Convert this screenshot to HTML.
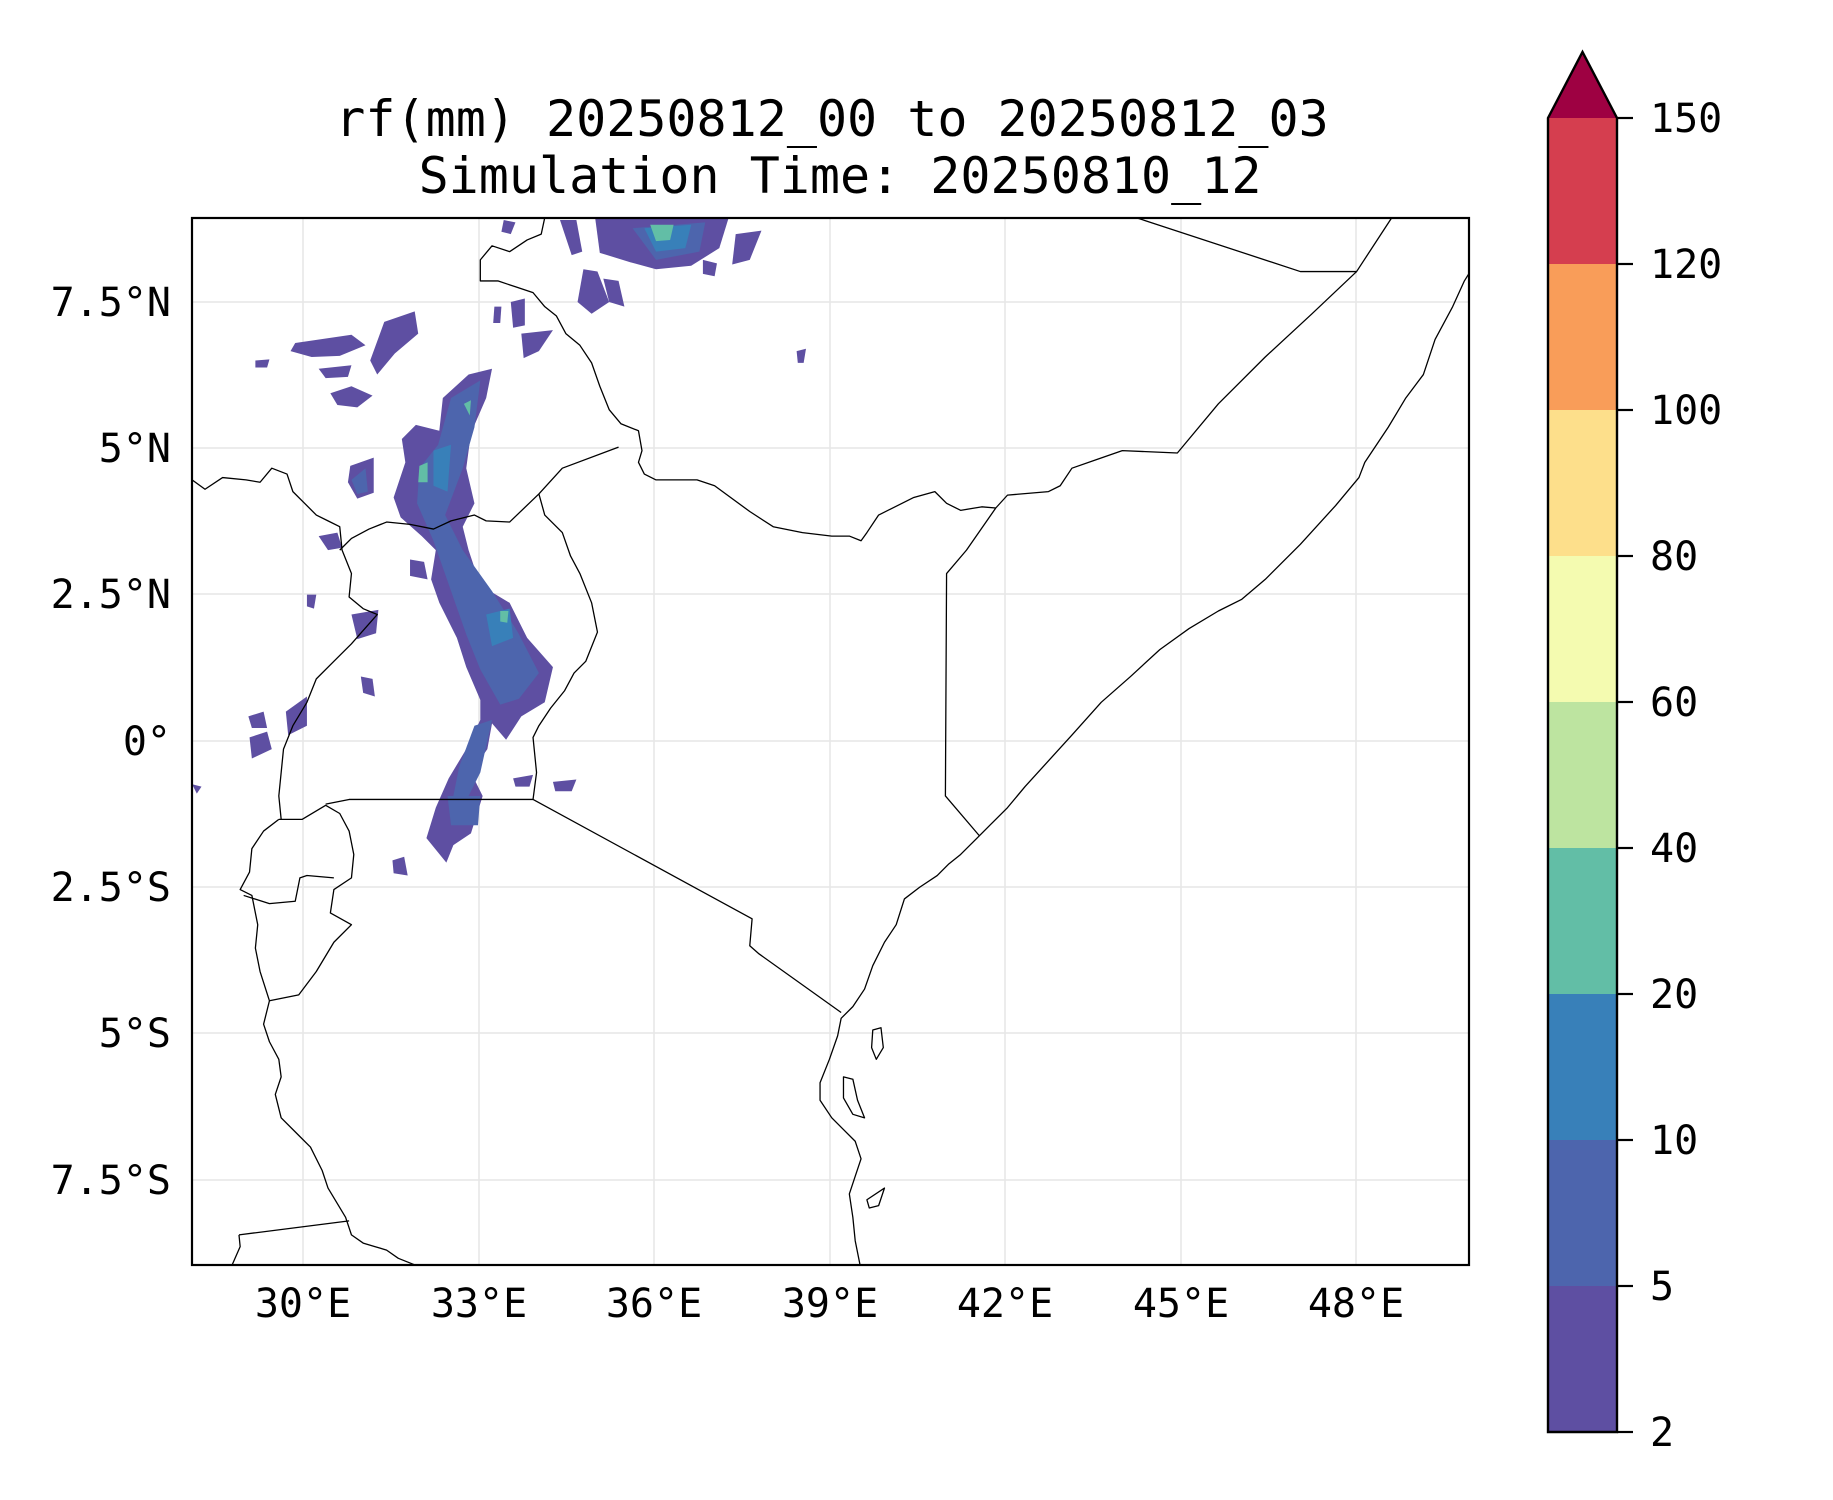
<!DOCTYPE html>
<html><head><meta charset="utf-8"><style>
html,body{margin:0;padding:0;background:#fff;}
svg{display:block;}
text{font-family:"DejaVu Sans Mono","Liberation Mono",monospace;fill:#000;}
</style></head><body>
<svg width="1833" height="1500" viewBox="0 0 1833 1500" xmlns="http://www.w3.org/2000/svg">
<defs><clipPath id="ax"><rect x="192" y="218" width="1277" height="1047"/></clipPath></defs>
<g stroke="#e6e6e6" stroke-width="1.5">
<line x1="303" y1="218" x2="303" y2="1265"/><line x1="479" y1="218" x2="479" y2="1265"/>
<line x1="654" y1="218" x2="654" y2="1265"/><line x1="830" y1="218" x2="830" y2="1265"/>
<line x1="1005" y1="218" x2="1005" y2="1265"/><line x1="1181" y1="218" x2="1181" y2="1265"/>
<line x1="1356" y1="218" x2="1356" y2="1265"/>
<line x1="192" y1="302" x2="1469" y2="302"/><line x1="192" y1="448" x2="1469" y2="448"/>
<line x1="192" y1="594" x2="1469" y2="594"/><line x1="192" y1="741" x2="1469" y2="741"/>
<line x1="192" y1="887" x2="1469" y2="887"/><line x1="192" y1="1033" x2="1469" y2="1033"/>
<line x1="192" y1="1180" x2="1469" y2="1180"/>
</g>
<g clip-path="url(#ax)">
<g transform="scale(1.1715,1.1705)">
<g fill="#5e4fa2">
<path d="M400,320 L420,315 L415,340 L402,370 L398,400 L405,430 L395,450 L400,470 L410,500 L435,515 L450,545 L472,570 L465,600 L445,612 L432,632 L420,618 L416,640 L402,660 L412,680 L402,712 L387,722 L381,737 L364,716 L372,690 L383,665 L398,640 L410,615 L410,598 L398,570 L390,545 L375,515 L368,495 L372,470 L360,458 L342,442 L336,425 L346,395 L343,375 L355,363 L375,368 L378,340 Z"/>
<path d="M508,186 L622,186 L614,212 L590,227 L560,230 L538,224 L512,216 Z"/>
<path d="M478,188 L492,188 L497,215 L488,218 Z"/>
<path d="M498,230 L510,232 L520,258 L505,268 L493,258 Z"/>
<path d="M515,238 L528,240 L533,262 L520,258 Z"/>
<path d="M628,200 L650,197 L640,222 L625,226 Z"/>
<path d="M600,222 L612,225 L610,236 L600,234 Z"/>
<path d="M430,188 L440,190 L436,200 L428,198 Z"/>
<path d="M445,285 L472,282 L460,300 L447,306 Z"/>
<path d="M436,258 L448,255 L448,278 L438,280 Z"/>
<path d="M422,262 L428,262 L427,276 L421,276 Z"/>
<path d="M252,293 L300,286 L312,295 L290,304 L266,305 L248,300 Z"/>
<path d="M328,275 L354,266 L357,285 L337,302 L322,320 L316,308 Z"/>
<path d="M272,315 L300,312 L297,322 L278,323 Z"/>
<path d="M282,336 L300,330 L318,338 L305,348 L288,346 Z"/>
<path d="M218,308 L230,307 L228,314 L218,314 Z"/>
<path d="M299,398 L319,391 L319,421 L305,426 L297,412 Z"/>
<path d="M272,458 L288,455 L292,468 L280,470 Z"/>
<path d="M300,525 L323,521 L321,541 L305,546 Z"/>
<path d="M350,478 L362,480 L365,495 L350,492 Z"/>
<path d="M212,612 L225,608 L228,622 L215,622 Z"/>
<path d="M213,630 L228,625 L232,640 L215,648 Z"/>
<path d="M244,608 L262,595 L262,620 L246,628 Z"/>
<path d="M308,578 L318,580 L320,595 L310,592 Z"/>
<path d="M438,665 L455,662 L452,672 L440,672 Z"/>
<path d="M472,668 L492,666 L488,676 L474,676 Z"/>
<path d="M335,735 L345,732 L348,748 L336,746 Z"/>
<path d="M262,508 L270,508 L268,520 L262,518 Z"/>
<path d="M680,300 L688,298 L686,310 L681,310 Z"/>
<path d="M164,670 L172,672 L168,678 Z"/>
</g>
<g fill="#4d65ad">
<path d="M385,340 L410,325 L405,365 L395,400 L380,440 L395,470 L420,505 L442,540 L460,575 L443,597 L427,602 L410,572 L398,542 L384,502 L370,462 L356,430 L358,400 L374,380 Z"/>
<path d="M540,195 L602,190 L597,215 L560,222 Z"/>
<path d="M405,620 L420,615 L410,660 L395,690 L385,690 L392,655 Z"/>
<path d="M382,680 L410,680 L408,705 L385,705 Z"/>
<path d="M300,410 L312,400 L314,420 L305,422 Z"/>
</g>
<g fill="#3880b9">
<path d="M550,195 L590,192 L585,212 L560,215 Z"/>
<path d="M370,385 L385,380 L382,420 L370,415 Z"/>
<path d="M415,525 L435,520 L438,545 L420,552 Z"/>
</g>
<g fill="#62bea6">
<path d="M555,192 L575,192 L572,205 L560,206 Z"/>
<path d="M358,398 L365,395 L365,412 L357,412 Z"/>
<path d="M427,522 L434,522 L433,532 L427,531 Z"/>
<path d="M396,345 L402,342 L401,355 Z"/>
</g>
<g fill="none" stroke="#000" stroke-width="1.1" stroke-linejoin="round">
<polyline points="1255,232 1250,240 1240,262 1225,290 1215,320 1200,340 1185,365 1165,395 1160,408 1140,432 1110,465 1080,495 1060,512 1040,522 1015,537 990,555 965,578 940,600 915,628 895,650 875,672 860,690 845,705 835,715 820,730 810,738 800,748 785,758 772,768 765,790 755,805 745,825 738,845 728,860 718,870 715,885 708,905 700,925 700,940 710,955 720,965 730,975 735,990 730,1005 725,1020 728,1040 730,1060 735,1085"/>
<polyline points="970,186 1110,232 1158,232 1188,186"/>
<polyline points="1158,232 1120,268 1080,305 1040,345 1005,387 958,385 935,393 915,400 905,415 895,420 860,423 850,434 825,470 808,490 807,680 836,714"/>
<polyline points="850,434 838,433 820,436 808,430 798,420 780,425 760,435 750,440 740,455 735,462 725,458 710,458 685,455 660,450 640,437 610,415 595,410 560,410 550,405 545,395 548,385 545,368 530,362 520,350 512,330 505,310 495,295 483,285 475,270 465,262 455,250 440,245 425,240 410,240 410,222 420,210 435,215 450,205 462,200 465,186"/>
<polyline points="528,382 480,400 460,422 435,446 415,445 405,440 385,445 370,452 350,448 330,446 315,452 300,460 290,470"/>
<polyline points="460,422 465,440 480,455 487,475 495,490 505,515 510,540 500,565 490,575 482,590 470,605 460,620 455,630 458,660 455,683 642,785 640,808 648,815 718,865"/>
<polyline points="455,683 298,683 278,687"/>
<polyline points="164,410 175,418 190,408 210,410 222,412 232,400 245,405 250,420 260,430 270,440 280,445 290,450 292,470 300,490 298,510 310,520 322,525 300,550 285,565 270,580 262,600 250,620 242,640 240,660 238,680 240,700"/>
<polyline points="238,700 258,700 278,688 290,695 298,710 302,730 300,750 285,760 282,780 300,790 285,805 270,830 255,850 230,855"/>
<polyline points="238,700 225,710 215,725 213,745 205,760 215,765 220,790 218,810 222,830 230,855 225,875 230,890 238,905 240,920 235,935 240,955 255,970 265,980 275,1000 280,1015 295,1040 300,1055 310,1062 320,1065 330,1068 340,1075 355,1081"/>
<polyline points="204,1055 298,1043"/>
<polyline points="204,1055 205,1065 198,1081"/>
<polyline points="208,765 230,772 252,770 256,750 262,748 285,750"/>
<path d="M745,880 L752,878 L754,895 L748,905 L744,895 Z"/>
<path d="M720,920 L728,922 L732,940 L738,955 L728,952 L720,938 Z"/>
<path d="M740,1025 L755,1015 L750,1030 L742,1032 Z"/>
</g>
</g>
</g>
<rect x="192" y="218" width="1277" height="1047" fill="none" stroke="#000" stroke-width="2.2"/>
<g font-size="40" text-anchor="end">
<text x="171" y="316">7.5°N</text><text x="171" y="462">5°N</text>
<text x="171" y="608">2.5°N</text><text x="171" y="755">0°</text>
<text x="171" y="901">2.5°S</text><text x="171" y="1047">5°S</text>
<text x="171" y="1194">7.5°S</text>
</g>
<g font-size="40" text-anchor="middle">
<text x="303" y="1317">30°E</text><text x="479" y="1317">33°E</text>
<text x="654" y="1317">36°E</text><text x="830" y="1317">39°E</text>
<text x="1005" y="1317">42°E</text><text x="1181" y="1317">45°E</text>
<text x="1356" y="1317">48°E</text>
</g>
<g font-size="50" text-anchor="middle">
<text x="832" y="136">rf(mm) 20250812_00 to 20250812_03</text>
<text x="840" y="193">Simulation Time: 20250810_12</text>
</g>
<g>
<rect x="1548" y="1286" width="69" height="146" fill="#5e4fa2"/>
<rect x="1548" y="1140" width="69" height="146" fill="#4d65ad"/>
<rect x="1548" y="994" width="69" height="146" fill="#3880b9"/>
<rect x="1548" y="848" width="69" height="146" fill="#62bea6"/>
<rect x="1548" y="702" width="69" height="146" fill="#bde4a0"/>
<rect x="1548" y="556" width="69" height="146" fill="#f4fbb0"/>
<rect x="1548" y="410" width="69" height="146" fill="#fddf8b"/>
<rect x="1548" y="264" width="69" height="146" fill="#f99d59"/>
<rect x="1548" y="118" width="69" height="146" fill="#d53e4f"/>
<path d="M1548,118 L1582.5,52 L1617,118 Z" fill="#9e0142"/>
<path d="M1548,1432 L1548,118 L1582.5,52 L1617,118 L1617,1432 Z" fill="none" stroke="#000" stroke-width="2.4"/>
<g stroke="#000" stroke-width="2.2">
<line x1="1617" y1="118" x2="1633" y2="118"/><line x1="1617" y1="264" x2="1633" y2="264"/>
<line x1="1617" y1="410" x2="1633" y2="410"/><line x1="1617" y1="556" x2="1633" y2="556"/>
<line x1="1617" y1="702" x2="1633" y2="702"/><line x1="1617" y1="848" x2="1633" y2="848"/>
<line x1="1617" y1="994" x2="1633" y2="994"/><line x1="1617" y1="1140" x2="1633" y2="1140"/>
<line x1="1617" y1="1286" x2="1633" y2="1286"/><line x1="1617" y1="1432" x2="1633" y2="1432"/>
</g>
<g font-size="40">
<text x="1650" y="132">150</text><text x="1650" y="278">120</text>
<text x="1650" y="424">100</text><text x="1650" y="570">80</text>
<text x="1650" y="716">60</text><text x="1650" y="862">40</text>
<text x="1650" y="1008">20</text><text x="1650" y="1154">10</text>
<text x="1650" y="1300">5</text><text x="1650" y="1446">2</text>
</g>
</g>
</svg>
</body></html>
